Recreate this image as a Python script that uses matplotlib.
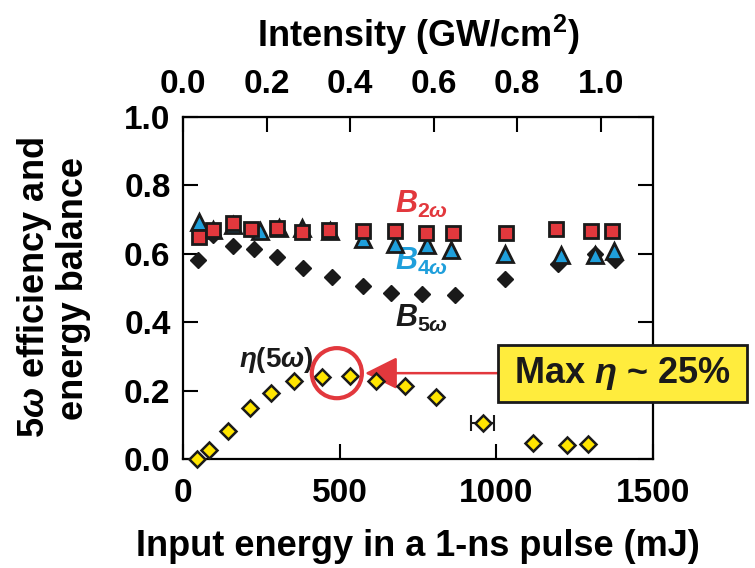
import matplotlib.pyplot as plt
from matplotlib.patches import Rectangle

plt.rcParams['font.family'] = ['Liberation Sans', 'DejaVu Sans']
plt.rcParams['font.weight'] = 'bold'
plt.rcParams['axes.labelweight'] = 'bold'
plt.rcParams['mathtext.fontset'] = 'custom'
plt.rcParams['mathtext.rm'] = 'Liberation Sans:bold'
plt.rcParams['mathtext.bf'] = 'Liberation Sans:bold'
plt.rcParams['mathtext.it'] = 'Liberation Sans:italic:bold'

# B2w energy balance (red squares)
e_b2 = [52, 97, 159, 217, 301, 380, 466, 576, 677, 776, 863, 1031, 1191, 1302, 1368]
b2 = [0.648, 0.669, 0.689, 0.672, 0.675, 0.665, 0.670, 0.667, 0.667, 0.662, 0.660, 0.662, 0.672, 0.667, 0.667]

# B4w energy balance (blue triangles)
e_b4 = [51, 97, 159, 245, 305, 381, 470, 576, 675, 778, 854, 1028, 1207, 1315, 1374]
b4 = [0.692, 0.669, 0.684, 0.667, 0.674, 0.674, 0.666, 0.642, 0.630, 0.625, 0.611, 0.599, 0.597, 0.597, 0.609]

# B5w energy balance (black diamonds)
e_b5 = [49, 97, 159, 227, 299, 382, 475, 573, 663, 762, 868, 1028, 1198, 1315, 1379]
b5 = [0.582, 0.655, 0.623, 0.613, 0.592, 0.559, 0.531, 0.505, 0.485, 0.483, 0.480, 0.525, 0.569, 0.600, 0.582]

# 5w efficiency (yellow diamonds)
e_eta = [44, 84, 145, 214, 280, 355, 445, 533, 616, 709, 808, 957, 1118, 1227, 1291]
eta = [0.0, 0.027, 0.082, 0.149, 0.194, 0.228, 0.241, 0.244, 0.228, 0.214, 0.182, 0.104, 0.046, 0.041, 0.044]
err_idx = 11
err_x = 37

MJ_TO_GW = 0.00075  # 1 GW/cm2 ~ 1333 mJ

x_ticks = [0, 500, 1000, 1500]
y_ticks = [0.0, 0.2, 0.4, 0.6, 0.8, 1.0]
top_ticks = [0.0, 0.2, 0.4, 0.6, 0.8, 1.0]

max_point = (491, 0.251)
arrow_tip = (581, 0.251)
arrow_tail = (1005, 0.251)

RED = '#e2383d'
BLUE = '#1f9fdb'
YELLOW = '#ffe500'
INK = '#1a1a1a'

fig = plt.figure(figsize=(7.55, 5.68), dpi=100)
ax = fig.add_axes([183 / 755, 1 - 459 / 568, 470 / 755, 342 / 568])

ax.plot(e_b5, b5, 'D', color=INK, markersize=8.5, mec=INK, zorder=3)
ax.plot(e_b4, b4, '^', color=BLUE, markersize=11, mec=INK, mew=2, zorder=4)
ax.plot(e_b2, b2, 's', color=RED, markersize=10, mec=INK, mew=2, zorder=5)
ax.errorbar([e_eta[err_idx]], [eta[err_idx]], xerr=err_x, fmt='none', ecolor=INK,
            elinewidth=1.5, capsize=6, capthick=1.5, zorder=3)
ax.plot(e_eta, eta, 'D', color=YELLOW, markersize=8, mec=INK, mew=1.8, zorder=5, clip_on=False)

ax.scatter([max_point[0]], [max_point[1]], s=1300, facecolors='none', edgecolors=RED,
           linewidths=3, zorder=6)
ax.annotate('', xy=arrow_tip, xytext=arrow_tail,
            arrowprops=dict(arrowstyle='-|>,head_length=1.0,head_width=0.5', color=RED,
                            lw=1.8, mutation_scale=20, shrinkA=0, shrinkB=0))

ax.set_xlim(0, 1500)
ax.set_ylim(0, 1.0)
ax.set_xticks(x_ticks)
ax.set_yticks(y_ticks)
ax.set_yticklabels([f'{v:.1f}' for v in y_ticks])
ax.tick_params(direction='in', length=11, width=1.5, labelsize=24, right=True, pad=9)
ax.tick_params(axis='x', pad=14)
for s in ax.spines.values():
    s.set_linewidth(1.6)

top = ax.secondary_xaxis('top', functions=(lambda e: e * MJ_TO_GW, lambda i: i / MJ_TO_GW))
top.set_xticks(top_ticks)
top.set_xticklabels([f'{v:.1f}' for v in top_ticks])
top.tick_params(direction='in', length=11, width=1.5, labelsize=24, pad=12)
top.set_xlabel(r'Intensity (GW/cm$^{2}$)', fontsize=26, labelpad=16)

ax.set_xlabel('Input energy in a 1-ns pulse (mJ)', fontsize=26, labelpad=14)
ax.set_ylabel('5$\\omega$ efficiency and\nenergy balance', fontsize=26,
              labelpad=24, linespacing=1.05)

ax.text(761, 0.719, r'$B_{\mathbf{2}\omega}$', color=RED, fontsize=22, ha='center', va='baseline')
ax.text(761, 0.553, r'$B_{\mathbf{4}\omega}$', color=BLUE, fontsize=22, ha='center', va='baseline')
ax.text(761, 0.386, r'$B_{\mathbf{5}\omega}$', color=INK, fontsize=22, ha='center', va='baseline')
ax.text(297, 0.29, r'$\eta$(5$\omega$)', color=INK, fontsize=20, ha='center', va='center')

fig.add_artist(Rectangle((498 / 755, 1 - 402 / 568), 249 / 755, 57 / 568, transform=fig.transFigure,
                         facecolor='#ffec3d', edgecolor=INK, linewidth=2, zorder=7))
fig.text(622 / 755, 1 - 374 / 568, r'Max $\eta$ ~ 25%', fontsize=26, ha='center', va='center',
         color=INK, zorder=8)

fig.savefig('out.png', dpi=100)
